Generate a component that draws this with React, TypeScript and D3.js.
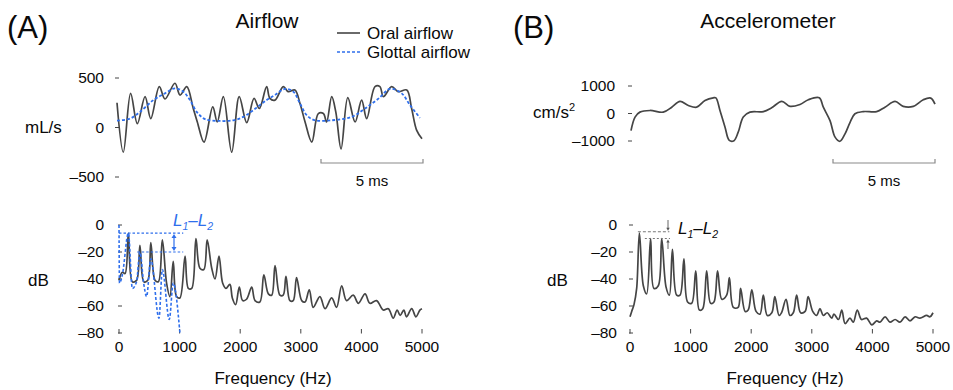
import React from 'react';
import * as d3 from 'd3';

// ---------- data ----------
const oralTime = [0,0.31,0.67,1.0,1.38,1.66,2.08,2.36,2.85,3.1,3.43,3.75,3.95,4.28,4.71,4.93,5.23,5.64,6.01,6.38,6.74,7.0,7.36,7.52,7.77,8.18,8.42,8.75,9.0,9.25,9.58,9.9,10.15,10.31,10.56,10.76,11.02,11.35,11.71,12.03,12.28,12.69,12.93,13.1,13.51,13.83,14.25,14.49,14.74,15.0];
const oralFlow = [250,-250,345,39,311,90,413,288,447,328,413,192,56,-148,209,56,311,-250,311,49,294,192,413,294,277,413,362,379,243,56,-148,141,141,56,311,158,-216,301,56,277,90,413,413,311,413,362,379,192,-29,-114];

const glottalTime = [0,0.64,1.13,1.79,2.36,2.85,3.26,3.59,3.92,4.33,5.07,5.72,6.21,6.7,7.36,7.77,8.26,8.67,9.0,9.33,9.74,10.56,11.54,12.2,12.87,13.43,14.0,14.41,14.9];
const glottalFlow = [70,90,158,277,345,396,362,277,158,84,66,73,107,175,277,328,390,362,243,124,73,73,107,192,294,390,345,226,97];

const accelTime = [0,0.2,0.44,0.94,1.59,2.01,2.42,2.83,3.24,3.65,4.06,4.19,4.39,4.64,4.85,5.08,5.29,5.54,5.87,6.53,6.94,7.44,7.85,8.34,8.75,9.29,9.49,9.82,10.07,10.31,10.56,10.81,11.05,11.46,12.12,12.53,13.03,13.43,13.93,14.42,14.79,15.0];
const accelValue = [-620,-130,50,110,50,230,440,290,230,470,570,570,110,-500,-980,-990,-680,-130,50,70,210,440,260,330,500,570,230,-260,-860,-1010,-740,-320,-10,70,70,230,440,260,260,500,560,340];

const oralSpecHz = [0,55,100,155,220,290,345,410,475,525,595,650,715,785,840,895,950,1005,1090,1145,1200,1270,1335,1400,1455,1530,1585,1650,1710,1765,1830,1870,1925,1985,2040,2105,2190,2245,2325,2390,2465,2520,2575,2655,2710,2755,2820,2875,2930,3015,3070,3140,3205,3315,3400,3510,3590,3675,3755,3865,3950,4060,4140,4250,4360,4445,4525,4590,4640,4700,4745,4830,4900,4965,5000];
const oralSpecDb = [-41,-35,-36,-6,-42,-41,-15,-42,-41,-13,-41,-42,-11,-43,-53,-27,-53,-54,-23,-47,-47,-10,-32,-33,-11,-32,-40,-23,-43,-47,-44,-54,-59,-46,-56,-55,-46,-56,-57,-37,-51,-52,-30,-52,-52,-38,-56,-56,-39,-56,-57,-48,-61,-53,-62,-54,-61,-45,-56,-52,-58,-51,-58,-56,-63,-62,-69,-63,-67,-63,-68,-62,-68,-63,-62];

const glottalSpecHz = [0,8,55,155,220,290,345,410,455,525,660,715,830,895,1005];
const glottalSpecDb = [0,-43,-37,-6,-47,-42,-20,-44,-53,-25,-69,-33,-70,-43,-80];

const accelSpecHz = [0,28,66,110,155,220,275,340,395,467,523,595,650,700,770,825,890,950,1018,1085,1145,1200,1265,1330,1385,1445,1515,1595,1640,1705,1785,1825,1900,1950,2010,2080,2145,2200,2265,2340,2390,2460,2500,2575,2640,2695,2750,2815,2890,2940,3015,3080,3135,3190,3255,3330,3365,3440,3495,3550,3630,3685,3750,3820,3905,3990,4070,4125,4210,4290,4375,4455,4540,4620,4705,4785,4895,4950,5000];
const accelSpecDb = [-68,-64,-59,-47,-6,-45,-51,-10,-47,-45,-10,-46,-52,-18,-52,-52,-25,-57,-58,-34,-63,-62,-34,-58,-57,-34,-55,-52,-39,-61,-61,-47,-64,-63,-48,-64,-66,-52,-67,-65,-53,-67,-65,-55,-67,-65,-52,-65,-64,-53,-64,-67,-62,-67,-65,-69,-66,-70,-63,-73,-69,-72,-63,-70,-69,-74,-71,-72,-68,-72,-70,-72,-68,-71,-68,-69,-67,-68,-65];

const airflowTicks = [500, 0, -500];
const accelTicks = [1000, 0, -1000];
const dbTicks = [0, -20, -40, -60, -80];
const freqTicks = [0, 1000, 2000, 3000, 4000, 5000];
const airflowLevels = [-6, -20]; // L1, L2 glottal
const accelLevels = [-5, -10];   // L1, L2 accelerometer

// ---------- style ----------
const FONT = '"Liberation Sans", Arial, Helvetica, sans-serif';
const GRAY = '#454545';
const BLUE = '#2f6fec';
const TICK = '#444';
const INK = '#0a0a0a';

const fmt = (v: number) => (v < 0 ? '\u2013' + Math.abs(v) : String(v));
const zip = (a: number[], b: number[]) => a.map((v, i) => [v, b[i]] as [number, number]);

export default function App() {
  const xA = d3.scaleLinear().domain([0, 15]).range([117, 422]);
  const yA = d3.scaleLinear().domain([-500, 500]).range([177, 78]);
  const xB = d3.scaleLinear().domain([0, 15]).range([631, 935]);
  const yB = d3.scaleLinear().domain([-1000, 1000]).range([141, 86]);
  const fA = d3.scaleLinear().domain([0, 5000]).range([119, 422]);
  const fB = d3.scaleLinear().domain([0, 5000]).range([630, 933]);
  const dbY = d3.scaleLinear().domain([-80, 0]).range([333, 225]);

  const mk = (x: d3.ScaleLinear<number, number>, y: d3.ScaleLinear<number, number>, curve: any) =>
    d3.line<[number, number]>().x(d => x(d[0])).y(d => y(d[1])).curve(curve);

  const cr = d3.curveCatmullRom.alpha(0.5);
  const oralPath = mk(xA, yA, cr)(zip(oralTime, oralFlow)) || '';
  const glottalPath = mk(xA, yA, cr)(zip(glottalTime, glottalFlow)) || '';
  const accelPath = mk(xB, yB, cr)(zip(accelTime, accelValue)) || '';
  const oralSpecPath = mk(fA, dbY, cr)(zip(oralSpecHz, oralSpecDb)) || '';
  const glotSpecPath = mk(fA, dbY, d3.curveMonotoneX)(zip(glottalSpecHz, glottalSpecDb)) || '';
  const accelSpecPath = mk(fB, dbY, cr)(zip(accelSpecHz, accelSpecDb)) || '';

  const yTicks = (scale: any, vals: number[], labelX: number, tx0: number, tx1: number) =>
    vals.map(v => (
      <g key={v}>
        <line x1={tx0} x2={tx1} y1={scale(v)} y2={scale(v)} stroke={TICK} strokeWidth={1} />
        <text x={labelX} y={scale(v)} dy="0.35em" textAnchor="end" fontSize={15.5} fill={INK}>{fmt(v)}</text>
      </g>
    ));

  const xTicks = (scale: any, vals: number[]) =>
    vals.map(v => (
      <g key={v}>
        <line x1={scale(v)} x2={scale(v)} y1={329} y2={333.5} stroke={TICK} strokeWidth={1} />
        <text x={scale(v)} y={352} textAnchor="middle" fontSize={15.5} fill={INK}>{fmt(v)}</text>
      </g>
    ));

  const scaleBar = (x0: number, x1: number) => (
    <g>
      <path d={`M${x0},159V163H${x1}V159`} fill="none" stroke="#8a8a8a" strokeWidth={1.2} />
      <text x={(x0 + x1) / 2} y={186} textAnchor="middle" fontSize={15} fill={INK}>5 ms</text>
    </g>
  );

  const L1a = dbY(airflowLevels[0]);
  const L2a = dbY(airflowLevels[1]);
  const L1b = dbY(accelLevels[0]);
  const L2b = dbY(accelLevels[1]);

  return (
    <svg width={953} height={390} style={{ position: 'absolute', left: 0, top: 0, background: '#fff' }} fontFamily={FONT}>
      <rect width={953} height={390} fill="#fff" />
      {/* Panel labels and titles */}
      <text x={7} y={38} fontSize={31} fill={INK}>(A)</text>
      <text x={267} y={28} textAnchor="middle" fontSize={21} fill={INK}>Airflow</text>
      <text x={513} y={38} fontSize={31} fill={INK}>(B)</text>
      <text x={768} y={28} textAnchor="middle" fontSize={21} fill={INK}>Accelerometer</text>

      {/* Legend */}
      <line x1={337} x2={360} y1={33} y2={33} stroke={GRAY} strokeWidth={1.6} />
      <text x={367} y={39} fontSize={17} fill={INK}>Oral airflow</text>
      <line x1={337} x2={360} y1={52} y2={52} stroke={BLUE} strokeWidth={1.6} strokeDasharray="3,2" />
      <text x={367} y={58} fontSize={17} fill={INK}>Glottal airflow</text>

      {/* Top A */}
      <text x={25} y={133} fontSize={17} fill={INK}>mL/s</text>
      {yTicks(yA, airflowTicks, 104, 115, 119)}
      <path d={oralPath} fill="none" stroke={GRAY} strokeWidth={1.7} strokeLinejoin="round" />
      <path d={glottalPath} fill="none" stroke={BLUE} strokeWidth={1.8} strokeDasharray="3,2" />
      {scaleBar(321, 423)}

      {/* Top B */}
      <text x={533} y={118} fontSize={17} fill={INK}>cm/s<tspan dy={-7} fontSize={11}>2</tspan></text>
      {yTicks(yB, accelTicks, 615, 628, 632)}
      <path d={accelPath} fill="none" stroke={GRAY} strokeWidth={1.7} strokeLinejoin="round" />
      {scaleBar(833, 935)}

      {/* Bottom A */}
      <text x={28} y={286} fontSize={17} fill={INK}>dB</text>
      {yTicks(dbY, dbTicks, 104, 118, 122)}
      {xTicks(fA, freqTicks)}
      <path d={oralSpecPath} fill="none" stroke={GRAY} strokeWidth={1.7} strokeLinejoin="round" />
      <path d={glotSpecPath} fill="none" stroke={BLUE} strokeWidth={1.6} strokeDasharray="3,2" />
      <line x1={fA(0)} x2={fA(1060)} y1={L1a} y2={L1a} stroke={BLUE} strokeWidth={1.2} strokeDasharray="2.5,2" />
      <line x1={fA(300)} x2={fA(1060)} y1={L2a} y2={L2a} stroke={BLUE} strokeWidth={1.2} strokeDasharray="2.5,2" />
      <line x1={174} x2={174} y1={L1a + 3} y2={L2a - 3} stroke={BLUE} strokeWidth={1.2} />
      <path d={`M171.5,${L1a + 5}L174,${L1a + 1}L176.5,${L1a + 5}Z`} fill={BLUE} />
      <path d={`M171.5,${L2a - 5}L174,${L2a - 1}L176.5,${L2a - 5}Z`} fill={BLUE} />
      <text x={173} y={226} fontSize={17} fontStyle="italic" fill={BLUE}>
        L<tspan dy={4} fontSize={10.5}>1</tspan><tspan dy={-4}>{'\u2013'}L</tspan><tspan dy={4} fontSize={10.5}>2</tspan>
      </text>
      <text x={273} y={384} textAnchor="middle" fontSize={17} fill={INK}>Frequency (Hz)</text>

      {/* Bottom B */}
      <text x={547} y={286} fontSize={17} fill={INK}>dB</text>
      {yTicks(dbY, dbTicks, 617, 629, 633)}
      {xTicks(fB, freqTicks)}
      <path d={accelSpecPath} fill="none" stroke={GRAY} strokeWidth={1.7} strokeLinejoin="round" />
      <line x1={fB(130)} x2={fB(650)} y1={L1b} y2={L1b} stroke="#777" strokeWidth={1} strokeDasharray="3,2" />
      <line x1={fB(245)} x2={fB(660)} y1={L2b} y2={L2b} stroke="#777" strokeWidth={1} strokeDasharray="2,2" />
      <line x1={668} x2={668} y1={220} y2={L1b - 3} stroke="#555" strokeWidth={0.9} />
      <path d={`M666.3,${L1b - 4}L668,${L1b - 1}L669.7,${L1b - 4}Z`} fill="#555" />
      <line x1={668} x2={668} y1={L2b + 3} y2={249} stroke="#555" strokeWidth={0.9} />
      <path d={`M666.3,${L2b + 4}L668,${L2b + 1}L669.7,${L2b + 4}Z`} fill="#555" />
      <text x={678} y={234} fontSize={17} fontStyle="italic" fill={INK}>
        L<tspan dy={4} fontSize={10.5}>1</tspan><tspan dy={-4}>{'\u2013'}L</tspan><tspan dy={4} fontSize={10.5}>2</tspan>
      </text>
      <text x={785} y={384} textAnchor="middle" fontSize={17} fill={INK}>Frequency (Hz)</text>
    </svg>
  );
}
